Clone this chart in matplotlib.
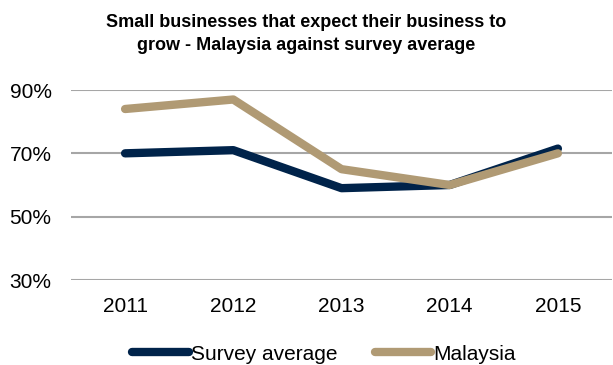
import matplotlib
matplotlib.use('Agg')
import matplotlib.pyplot as plt
from matplotlib.ticker import FuncFormatter

plt.rcParams['font.family'] = ['Liberation Sans', 'DejaVu Sans']

years = ['2011', '2012', '2013', '2014', '2015']
survey_average = [70, 71, 59, 60, 71.5]
malaysia = [84, 87, 65, 60, 70]

navy = '#00234a'
tan = '#b09a74'

fig = plt.figure(figsize=(6.13, 3.65), dpi=100)
ax = fig.add_axes([71 / 613, 1 - 280 / 365, 541 / 613, 190 / 365])

x = range(len(years))
ax.plot(x, survey_average, color=navy, lw=6, solid_capstyle='round',
        solid_joinstyle='round', label='Survey average', zorder=3)
ax.plot(x, malaysia, color=tan, lw=6, solid_capstyle='round',
        solid_joinstyle='round', label='Malaysia', zorder=4)

ax.set_xlim(-0.5, len(years) - 0.5)
ax.set_ylim(30, 90)
ax.set_yticks([30, 50, 70, 90])
ax.yaxis.set_major_formatter(FuncFormatter(lambda v, p: f'{v:.0f}%'))
ax.set_xticks(list(x))
ax.set_xticklabels(years)
ax.tick_params(length=0, labelsize=15, colors='black')
ax.tick_params(axis='x', pad=12)
ax.tick_params(axis='y', pad=14)
ax.grid(axis='y', color='#a6a6a6', lw=1.5, zorder=0)
for s in ax.spines.values():
    s.set_visible(False)

# two-line bold title above the plot
fig.text(0.5, 1 - 34 / 365, 'Small businesses that expect their business to\ngrow - Malaysia against survey average',
         ha='center', va='center', fontsize=13, fontweight='bold', linespacing=1.4)

fig.legend(loc='center', bbox_to_anchor=(324 / 613, 1 - 354 / 365), ncol=2,
           frameon=False, fontsize=15, handlelength=2.7, handletextpad=0.1,
           columnspacing=1.8, borderpad=0)

fig.savefig('out.png', dpi=100)
